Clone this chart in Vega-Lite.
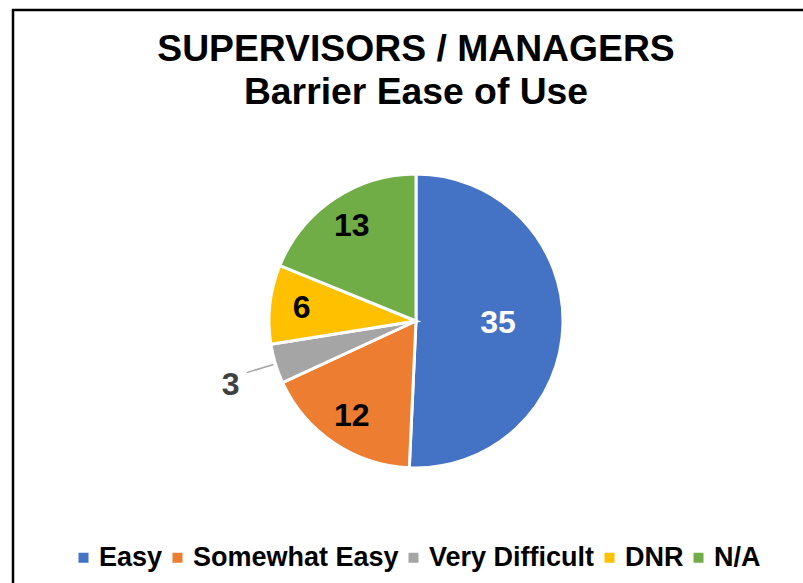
{
  "$schema": "https://vega.github.io/schema/vega-lite/v6.json",
  "width": 806,
  "height": 622,
  "autosize": {"type": "none"},
  "padding": {"left": 13, "top": 10, "right": 0, "bottom": 0},
  "background": "white",
  "config": {"view": {"stroke": null}, "font": "Liberation Sans"},
  "title": {
    "text": ["SUPERVISORS / MANAGERS", "Barrier Ease of Use"],
    "fontSize": 37.3,
    "font": "Liberation Sans",
    "fontWeight": "bold",
    "lineHeight": 43,
    "offset": -104,
    "anchor": "middle",
    "color": "black"
  },
  "data": {
    "values": [
      {"k": 1, "category": "Easy", "value": 35},
      {"k": 2, "category": "Somewhat Easy", "value": 12},
      {"k": 3, "category": "Very Difficult", "value": 3},
      {"k": 4, "category": "DNR", "value": 6},
      {"k": 5, "category": "N/A", "value": 13}
    ]
  },
  "layer": [
    {
      "transform": [{"aggregate": [{"op": "count", "as": "n"}]}],
      "mark": {"type": "rect", "filled": false, "stroke": "black", "strokeWidth": 2.5},
      "encoding": {}
    },
    {
      "mark": {"type": "arc", "outerRadius": 147, "stroke": "white", "strokeWidth": 3},
      "encoding": {
        "theta": {"field": "value", "type": "quantitative", "stack": true},
        "order": {"field": "k", "type": "quantitative"},
        "color": {
          "field": "category",
          "type": "nominal",
          "sort": ["Easy", "Somewhat Easy", "Very Difficult", "DNR", "N/A"],
          "scale": {
            "domain": ["Easy", "Somewhat Easy", "Very Difficult", "DNR", "N/A"],
            "range": ["#4472C4", "#ED7D31", "#A5A5A5", "#FFC000", "#70AD47"]
          },
          "legend": {
            "orient": "none",
            "legendX": 57,
            "legendY": 534,
            "direction": "horizontal",
            "title": null,
            "symbolType": "square",
            "symbolSize": 100,
            "symbolStrokeWidth": 0,
            "labelFontSize": 27,
            "labelFont": "Liberation Sans",
            "labelFontWeight": "bold",
            "labelColor": "black",
            "labelOffset": 2,
            "labelLimit": 400,
            "columnPadding": 1
          }
        }
      }
    },
    {
      "mark": {"type": "arc", "innerRadius": 149, "outerRadius": 177, "padAngle": 0.6, "filled": false, "stroke": "#A5A5A5", "strokeWidth": 1.5},
      "encoding": {
        "theta": {"field": "value", "type": "quantitative", "stack": true},
        "order": {"field": "k", "type": "quantitative"},
        "strokeOpacity": {"condition": {"test": "datum.category === 'Very Difficult'", "value": 1}, "value": 0}
      }
    },
    {
      "mark": {"type": "text", "radius": 82, "fontSize": 32, "fontWeight": "bold", "font": "Liberation Sans", "fill": "white"},
      "encoding": {
        "theta": {"field": "value", "type": "quantitative", "stack": true},
        "order": {"field": "k", "type": "quantitative"},
        "text": {"field": "value", "type": "quantitative"},
        "opacity": {"condition": {"test": "datum.category === 'Easy'", "value": 1}, "value": 0}
      }
    },
    {
      "mark": {"type": "text", "radius": 115, "fontSize": 32, "fontWeight": "bold", "font": "Liberation Sans", "fill": "black"},
      "encoding": {
        "theta": {"field": "value", "type": "quantitative", "stack": true},
        "order": {"field": "k", "type": "quantitative"},
        "text": {"field": "value", "type": "quantitative"},
        "opacity": {"condition": {"test": "datum.category === 'Somewhat Easy' || datum.category === 'DNR' || datum.category === 'N/A'", "value": 1}, "value": 0}
      }
    },
    {
      "mark": {"type": "text", "radius": 196, "thetaOffset": -0.035, "fontSize": 32, "fontWeight": "bold", "font": "Liberation Sans", "fill": "#404040"},
      "encoding": {
        "theta": {"field": "value", "type": "quantitative", "stack": true},
        "order": {"field": "k", "type": "quantitative"},
        "text": {"field": "value", "type": "quantitative"},
        "opacity": {"condition": {"test": "datum.category === 'Very Difficult'", "value": 1}, "value": 0}
      }
    }
  ]
}
